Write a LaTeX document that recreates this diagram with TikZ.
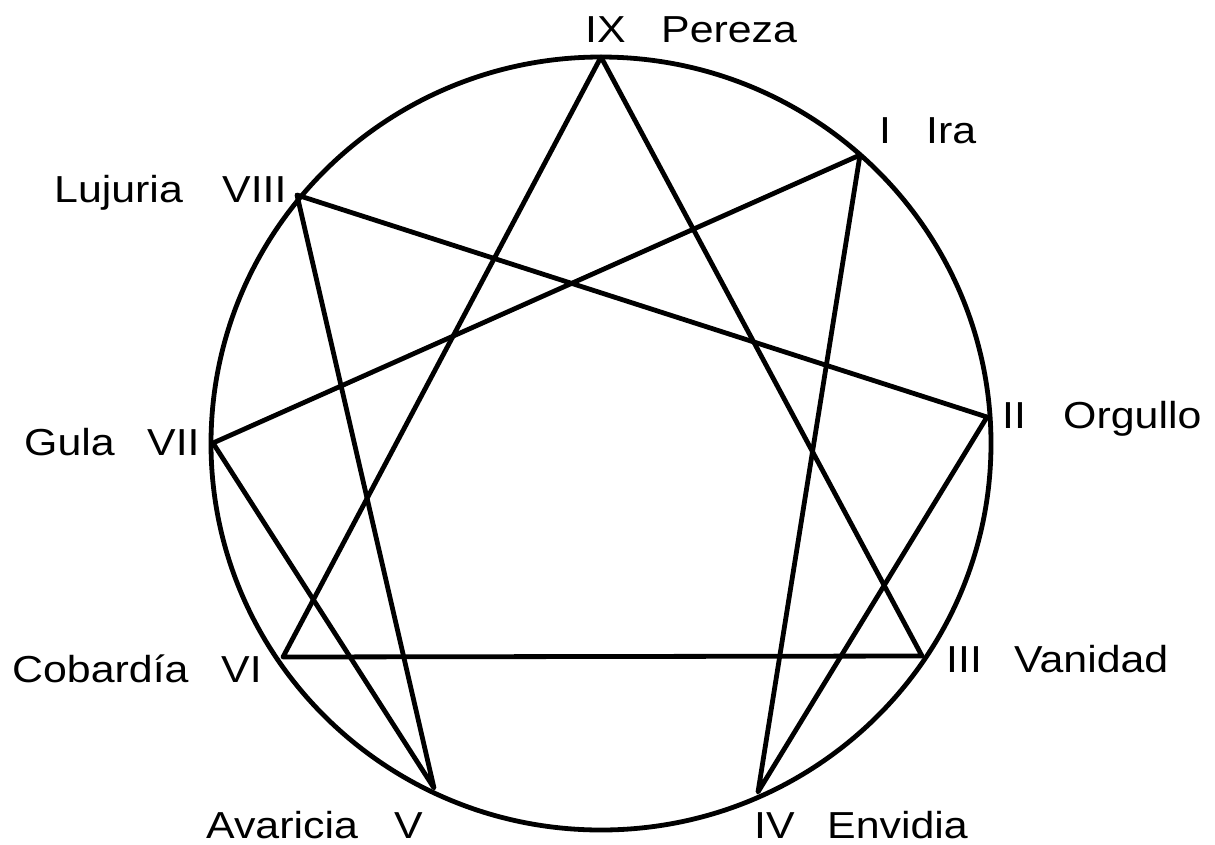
\documentclass[tikz,border=0pt]{standalone}
\usepackage{fontspec}
\setmainfont{Liberation Sans}[FakeStretch=1.14]
\begin{document}
\begin{tikzpicture}[x=1pt,y=-1pt,
  lbl/.style={anchor=base west,inner sep=0pt,font=\fontsize{37.6}{40}\selectfont},
  edge/.style={line width=4.8pt,line cap=round,line join=round}]
\useasboundingbox (0,0) rectangle (1215,844);
% circle
\draw[edge] (601,443.5) ellipse [x radius=390pt, y radius=386.5pt];
% vertices
\coordinate (p9) at (601,57);
\coordinate (p1) at (860,155);
\coordinate (p2) at (987,417);
\coordinate (p3) at (922,656);
\coordinate (p4) at (758,792);
\coordinate (p5) at (434,788);
\coordinate (p6) at (283,657);
\coordinate (p7) at (213,443);
\coordinate (p8) at (297,195);
% triangle
\draw[edge] (p9) -- (p3) -- (p6) -- cycle;
% hexad 1-4-2-8-5-7-1
\draw[edge] (p1) -- (p4) -- (p2) -- (p8) -- (p5) -- (p7) -- cycle;
% labels
\node[lbl] (n9) at (585,42) {IX};
\node[lbl] (t9) at (661,42) {Pereza};
\node[lbl] (n1) at (879,143) {I};
\node[lbl] (t1) at (926,143) {Ira};
\node[lbl] (n2) at (1002,428) {II};
\node[lbl] (t2) at (1063,428) {Orgullo};
\node[lbl] (n3) at (946,672) {III};
\node[lbl] (t3) at (1014,672) {Vanidad};
\node[lbl] (n4) at (754,838) {IV};
\node[lbl] (t4) at (827,838) {Envidia};
\node[lbl] (t5) at (206,838) {Avaricia};
\node[lbl] (n5) at (394,838) {V};
\node[lbl] (t6) at (12,682) {Cobardía};
\node[lbl] (n6) at (221,682) {VI};
\node[lbl] (t7) at (24,455) {Gula};
\node[lbl] (n7) at (147,455) {VII};
\node[lbl] (t8) at (54,202) {Lujuria};
\node[lbl] (n8) at (222,202) {VIII};
\end{tikzpicture}
\end{document}
